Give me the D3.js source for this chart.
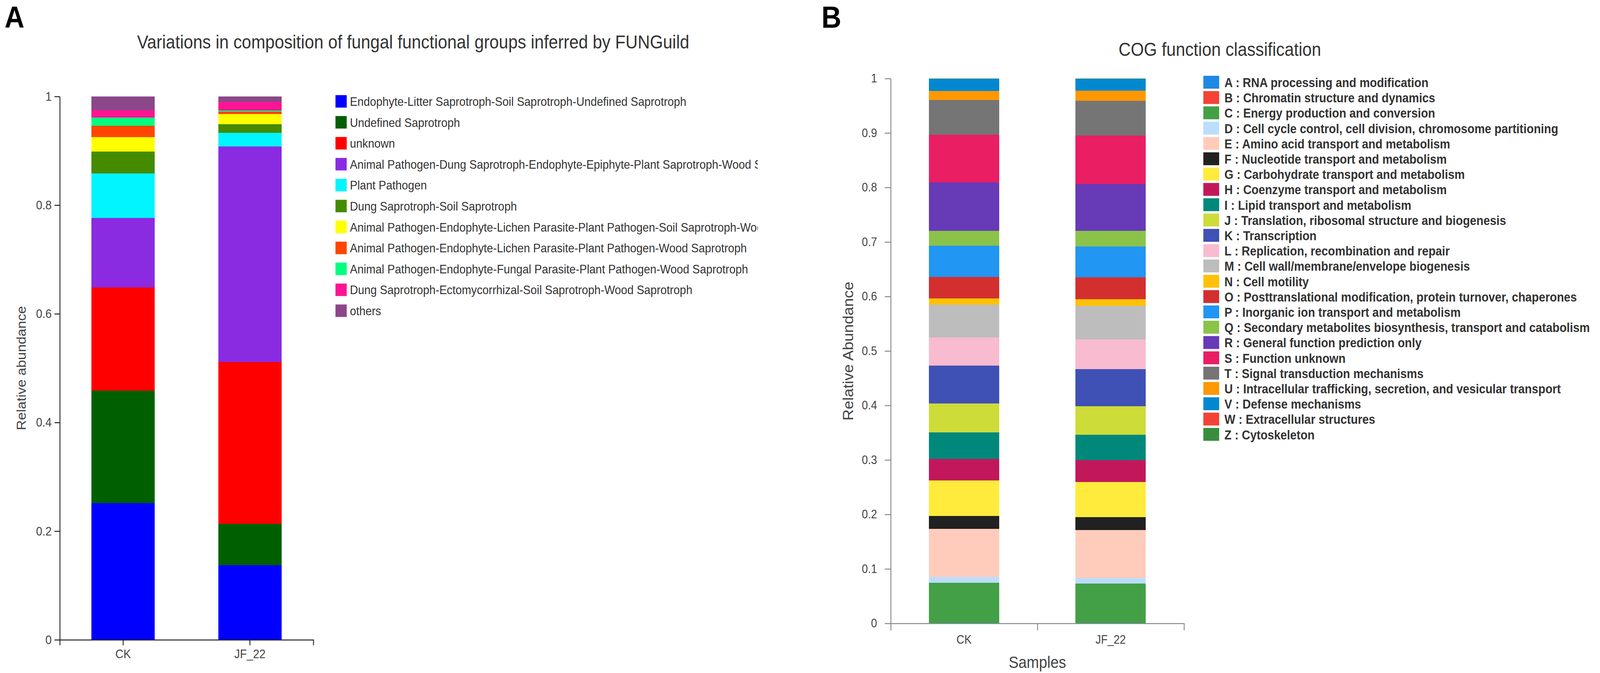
<!DOCTYPE html>
<html>
<head>
<meta charset="utf-8">
<script src="https://cdn.jsdelivr.net/npm/d3@7"></script>
<style>
  html, body { margin: 0; padding: 0; background: #fff; overflow: hidden; }
  svg { display: block; width: 100vw; height: 100vh; font-family: "Liberation Sans", Arial, sans-serif; }
</style>
</head>
<body>
<svg id="fig"></svg>
<script>
// ---- data ----
const samples = ['CK', 'JF_22'];

const funguildGroups = [
  'Endophyte-Litter Saprotroph-Soil Saprotroph-Undefined Saprotroph',
  'Undefined Saprotroph',
  'unknown',
  'Animal Pathogen-Dung Saprotroph-Endophyte-Epiphyte-Plant Saprotroph-Wood Saprotroph',
  'Plant Pathogen',
  'Dung Saprotroph-Soil Saprotroph',
  'Animal Pathogen-Endophyte-Lichen Parasite-Plant Pathogen-Soil Saprotroph-Wood Saprotroph',
  'Animal Pathogen-Endophyte-Lichen Parasite-Plant Pathogen-Wood Saprotroph',
  'Animal Pathogen-Endophyte-Fungal Parasite-Plant Pathogen-Wood Saprotroph',
  'Dung Saprotroph-Ectomycorrhizal-Soil Saprotroph-Wood Saprotroph',
  'others'
];
const funguildColors = ['#0000ff', '#006000', '#ff0000', '#8a2be2', '#00f5ff', '#458b00',
  '#ffff00', '#ff4500', '#00ff7f', '#ff1493', '#8b4789'];
const funguildCK   = [0.2516, 0.2072, 0.1900, 0.1276, 0.0823, 0.0399, 0.0263, 0.0214, 0.0152, 0.0136, 0.0247];
const funguildJF22 = [0.1370, 0.0762, 0.2980, 0.3971, 0.0252, 0.0151, 0.0192, 0.0041, 0.0022, 0.0158, 0.0101];
const funguildTicks = [0, 0.2, 0.4, 0.6, 0.8, 1];

const cogCodes = ['A','B','C','D','E','F','G','H','I','J','K','L','M','N','O','P','Q','R','S','T','U','V','W','Z'];
const cogNames = [
  'RNA processing and modification',
  'Chromatin structure and dynamics',
  'Energy production and conversion',
  'Cell cycle control, cell division, chromosome partitioning',
  'Amino acid transport and metabolism',
  'Nucleotide transport and metabolism',
  'Carbohydrate transport and metabolism',
  'Coenzyme transport and metabolism',
  'Lipid transport and metabolism',
  'Translation, ribosomal structure and biogenesis',
  'Transcription',
  'Replication, recombination and repair',
  'Cell wall/membrane/envelope biogenesis',
  'Cell motility',
  'Posttranslational modification, protein turnover, chaperones',
  'Inorganic ion transport and metabolism',
  'Secondary metabolites biosynthesis, transport and catabolism',
  'General function prediction only',
  'Function unknown',
  'Signal transduction mechanisms',
  'Intracellular trafficking, secretion, and vesicular transport',
  'Defense mechanisms',
  'Extracellular structures',
  'Cytoskeleton'
];
const cogColors = ['#1e88e5', '#f44336', '#43a047', '#bbdefb', '#ffccbc', '#212121', '#ffeb3b', '#c2185b',
  '#00897b', '#cddc39', '#3f51b5', '#f8bbd0', '#bdbdbd', '#ffc107', '#d32f2f', '#2196f3',
  '#8bc34a', '#673ab7', '#e91e63', '#757575', '#ff9800', '#0288d1', '#f44336', '#388e3c'];
const cogCK   = [0.0004, 0.0002, 0.0743, 0.0104, 0.0881, 0.0236, 0.0653, 0.0397, 0.0488, 0.0525, 0.0697, 0.0515,
  0.0601, 0.0118, 0.0396, 0.0569, 0.0278, 0.0883, 0.0879, 0.0638, 0.0164, 0.0222, 0.0001, 0.0003];
const cogJF22 = [0.0004, 0.0002, 0.0723, 0.0100, 0.0881, 0.0240, 0.0645, 0.0405, 0.0460, 0.0525, 0.0681, 0.0548,
  0.0615, 0.0123, 0.0401, 0.0565, 0.0287, 0.0856, 0.0893, 0.0638, 0.0187, 0.0215, 0.0001, 0.0003];
const cogTicks = [0, 0.1, 0.2, 0.3, 0.4, 0.5, 0.6, 0.7, 0.8, 0.9, 1];

// ---- figure ----
const W = 4550, H = 1723;
// viewBox so the drawing always fills the window whatever its css pixel size
const svg = d3.select('#fig')
  .attr('viewBox', `0 0 ${W} ${H}`)
  .attr('preserveAspectRatio', 'none');

function toRows(keys, cols) {
  return samples.map((s, i) => {
    const row = {sample: s};
    keys.forEach((k, j) => { row[k] = cols[i][j]; });
    return row;
  });
}

function drawBars(g, keys, colors, rows, x, y) {
  const series = d3.stack().keys(keys)(rows);
  g.selectAll('g.layer')
    .data(series)
    .join('g')
      .attr('class', 'layer')
      .attr('fill', (d, i) => colors[i])
    .selectAll('rect')
    .data(d => d)
    .join('rect')
      .attr('x', d => x(d.data.sample))
      .attr('width', x.bandwidth())
      .attr('y', d => y(d[1]))
      .attr('height', d => y(d[0]) - y(d[1]))
      .attr('shape-rendering', 'crispEdges');
}

function styleAxis(g, color, width, fontSize, textColor) {
  g.selectAll('.domain, .tick line').attr('stroke', color).attr('stroke-width', width);
  g.selectAll('text').attr('font-size', fontSize).attr('fill', textColor)
    .attr('font-family', '"Liberation Sans", Arial, sans-serif');
}

// ---- panel A: FUNGuild ----
function drawFunguild() {
  const top = 247, bottom = 1638, left = 170, right = 891;
  const y = d3.scaleLinear().domain([0, 1]).range([bottom, top]);
  const x = d3.scaleBand().domain(samples).range([left, right]).paddingInner(0.5).paddingOuter(0.25);
  const g = svg.append('g').attr('class', 'panel-a');

  drawBars(g.append('g'), funguildGroups, funguildColors, toRows(funguildGroups, [funguildCK, funguildJF22]), x, y);

  g.append('g')
    .attr('transform', `translate(${left},0)`)
    .call(d3.axisLeft(y).tickValues(funguildTicks).tickFormat(d3.format('~g'))
      .tickSize(15).tickSizeOuter(0).tickPadding(8))
    .call(a => styleAxis(a, '#222', 2.5, 32, '#444'));

  g.append('g')
    .attr('transform', `translate(0,${bottom})`)
    .call(d3.axisBottom(x).tickSize(14).tickSizeOuter(14).tickPadding(10))
    .call(a => styleAxis(a, '#222', 2.5, 32, '#444'));

  g.append('text')
    .attr('transform', `translate(73,${(top + bottom) / 2}) rotate(-90)`)
    .attr('text-anchor', 'middle')
    .attr('font-size', 36).attr('fill', '#444')
    .text('Relative abundance');

  g.append('text')
    .attr('x', 1175).attr('y', 124)
    .attr('text-anchor', 'middle')
    .attr('font-size', 48).attr('fill', '#333')
    .text('Variations in composition of fungal functional groups inferred by FUNGuild');

  g.append('text')
    .attr('x', 13).attr('y', 71)
    .attr('font-size', 78).attr('font-weight', 'bold').attr('fill', '#000')
    .text('A');

  // legend, cut at the right edge like the original
  g.append('clipPath').attr('id', 'legA-clip')
    .append('rect').attr('x', 900).attr('y', 200).attr('width', 1255).attr('height', 700);
  const leg = g.append('g').attr('clip-path', 'url(#legA-clip)')
    .selectAll('g')
    .data(funguildGroups)
    .join('g')
      .attr('transform', (d, i) => `translate(954,${243.5 + i * 53.6})`);
  leg.append('rect').attr('width', 32).attr('height', 32).attr('fill', (d, i) => funguildColors[i]);
  leg.append('text').attr('x', 41).attr('y', 27.5)
    .attr('font-size', 32).attr('fill', '#333')
    .text(d => d);
}

// ---- panel B: COG ----
function drawCog() {
  const top = 201, bottom = 1596, left = 2533, right = 3367;
  const y = d3.scaleLinear().domain([0, 1]).range([bottom, top]);
  const x = d3.scaleBand().domain(samples).range([left, right]).paddingInner(0.52).paddingOuter(0.26);
  const g = svg.append('g').attr('class', 'panel-b');

  drawBars(g.append('g'), cogCodes, cogColors, toRows(cogCodes, [cogCK, cogJF22]), x, y);

  g.append('g')
    .attr('transform', `translate(${left},0)`)
    .call(d3.axisLeft(y).tickValues(cogTicks).tickFormat(d3.format('~g'))
      .tickSize(17).tickSizeOuter(0).tickPadding(22))
    .call(a => styleAxis(a, '#888', 2.5, 31, '#444'));

  // tick marks sit on the band edges, labels in the band centres
  const edges = d3.scaleLinear().domain([0, samples.length]).range([left, right]);
  g.append('g')
    .attr('transform', `translate(0,${bottom})`)
    .call(d3.axisBottom(edges).tickValues(d3.range(samples.length + 1)).tickFormat('')
      .tickSize(18).tickSizeOuter(0))
    .call(a => styleAxis(a, '#888', 2.5, 31, '#444'));
  g.append('g')
    .attr('transform', `translate(0,${bottom})`)
    .call(d3.axisBottom(x).tickSize(0).tickPadding(30))
    .call(a => a.select('.domain').remove())
    .call(a => styleAxis(a, '#888', 2.5, 31, '#444'));

  g.append('text')
    .attr('x', (left + right) / 2).attr('y', 1710)
    .attr('text-anchor', 'middle')
    .attr('font-size', 42).attr('fill', '#444')
    .text('Samples');

  g.append('text')
    .attr('transform', `translate(2426,899) rotate(-90)`)
    .attr('text-anchor', 'middle')
    .attr('font-size', 40).attr('fill', '#444')
    .text('Relative Abundance');

  g.append('text')
    .attr('x', 3469).attr('y', 143)
    .attr('text-anchor', 'middle')
    .attr('font-size', 48).attr('fill', '#333')
    .text('COG function classification');

  g.append('text')
    .attr('x', 2336).attr('y', 71)
    .attr('font-size', 78).attr('font-weight', 'bold').attr('fill', '#000')
    .text('B');

  const leg = g.append('g')
    .selectAll('g')
    .data(cogCodes)
    .join('g')
      .attr('transform', (d, i) => `translate(3422,${194 + i * 39.2})`);
  leg.append('rect').attr('width', 45).attr('height', 33).attr('fill', (d, i) => cogColors[i]);
  leg.append('text').attr('x', 60).attr('y', 29)
    .attr('font-size', 33).attr('font-weight', 'bold').attr('fill', '#333')
    .text((d, i) => `${d} : ${cogNames[i]}`);
}

drawFunguild();
drawCog();
</script>
</body>
</html>
